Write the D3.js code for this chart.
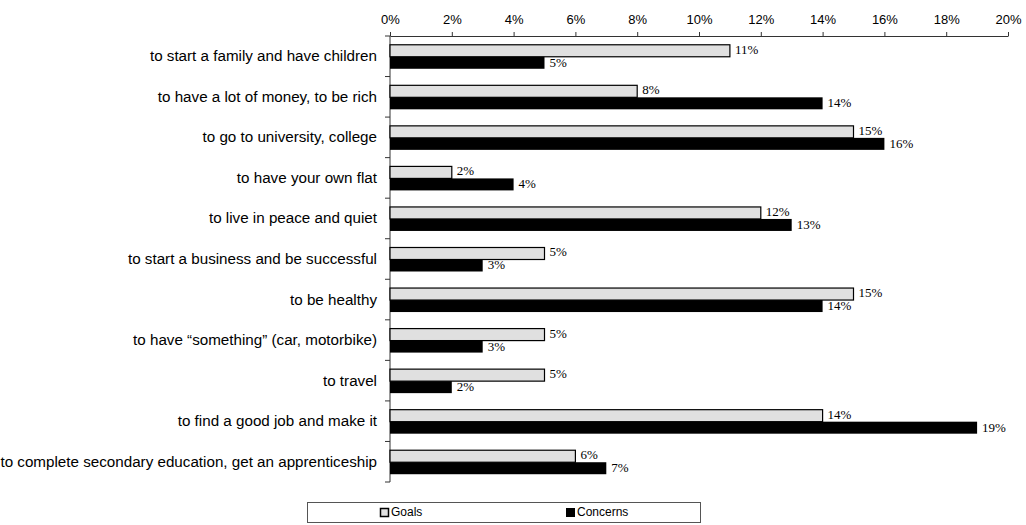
<!DOCTYPE html>
<html>
<head>
<meta charset="utf-8">
<script src="https://cdn.jsdelivr.net/npm/d3@7"></script>
<style>
  html, body { margin: 0; padding: 0; background: #fff; }
  svg { display: block; }
</style>
</head>
<body>
<svg id="chart" width="1026" height="525"></svg>
<script>
const categories = [
  "to start a family and have children",
  "to have a lot of money, to be rich",
  "to go to university, college",
  "to have your own flat",
  "to live in peace and quiet",
  "to start a business and be successful",
  "to be healthy",
  "to have \u201csomething\u201d (car, motorbike)",
  "to travel",
  "to find a good job and make it",
  "to complete secondary education, get an apprenticeship"
];
const goals    = [11, 8, 15, 2, 12, 5, 15, 5, 5, 14, 6];
const concerns = [5, 14, 16, 4, 13, 3, 14, 3, 2, 19, 7];
const xTicks   = [0, 2, 4, 6, 8, 10, 12, 14, 16, 18, 20];
const seriesNames = ["Goals", "Concerns"];

const svg = d3.select("#chart");
const plotL = 390, plotR = 1008, plotT = 36, plotB = 482;

const x = d3.scaleLinear().domain([0, 20]).range([plotL, plotR]);
const y = d3.scaleBand().domain(categories).range([plotT, plotB]).paddingInner(0).paddingOuter(0);
const barH = 12;

// top axis
const xAxis = d3.axisTop(x).tickValues(xTicks).tickFormat(d => d + "%").tickSize(4).tickSizeOuter(0);
const gx = svg.append("g").attr("transform", `translate(0,${plotT})`).call(xAxis);
gx.select(".domain").attr("stroke", "#333");
gx.selectAll(".tick line").attr("stroke", "#333");
gx.selectAll(".tick text").attr("font-family", "Liberation Sans, Arial, sans-serif")
  .attr("font-size", 13).attr("fill", "#000").attr("dy", "-0.4em");

// left axis with ticks between bands
const gy = svg.append("g").attr("transform", `translate(${plotL},0)`);
gy.append("line").attr("x1", 0).attr("x2", 0).attr("y1", plotT).attr("y2", plotB).attr("stroke", "#333");
const bounds = d3.range(categories.length + 1).map(i => plotT + i * y.bandwidth());
gy.selectAll("line.tk").data(bounds).join("line").attr("class", "tk")
  .attr("x1", -5).attr("x2", 0).attr("y1", d => d).attr("y2", d => d).attr("stroke", "#333");

// category labels
svg.append("g").selectAll("text").data(categories).join("text")
  .attr("x", 377).attr("y", d => y(d) + y.bandwidth() / 2 + 1)
  .attr("text-anchor", "end").attr("dominant-baseline", "middle")
  .attr("font-family", "Liberation Sans, Arial, sans-serif").attr("font-size", 15.2).attr("fill", "#000")
  .text(d => d);

const rows = categories.map((c, i) => ({ c, g: goals[i], k: concerns[i] }));
const offG = (y.bandwidth() - 2 * barH) / 2 + 0.5;

// goals bars
svg.append("g").selectAll("rect").data(rows).join("rect")
  .attr("x", x(0)).attr("y", d => y(d.c) + offG)
  .attr("width", d => x(d.g) - x(0)).attr("height", barH)
  .attr("fill", "#e0e0e0").attr("stroke", "#000").attr("stroke-width", 1.2);

// concerns bars
svg.append("g").selectAll("rect").data(rows).join("rect")
  .attr("x", x(0)).attr("y", d => y(d.c) + offG + barH)
  .attr("width", d => x(d.k) - x(0)).attr("height", barH)
  .attr("fill", "#000");

// value labels
const lab = svg.append("g").attr("font-family", "Liberation Serif, Times New Roman, serif")
  .attr("font-size", 13).attr("fill", "#000");
lab.selectAll("text.g").data(rows).join("text").attr("class", "g")
  .attr("x", d => x(d.g) + 5).attr("y", d => y(d.c) + offG + barH / 2)
  .attr("dominant-baseline", "middle").text(d => d.g + "%");
lab.selectAll("text.k").data(rows).join("text").attr("class", "k")
  .attr("x", d => x(d.k) + 5).attr("y", d => y(d.c) + offG + barH * 1.5 + 1)
  .attr("dominant-baseline", "middle").text(d => d.k + "%");

// legend
const lg = svg.append("g");
lg.append("rect").attr("x", 307.5).attr("y", 502.5).attr("width", 393).attr("height", 20)
  .attr("fill", "#fff").attr("stroke", "#555");
const legendPos = [380, 566];
seriesNames.forEach((n, i) => {
  lg.append("rect").attr("x", legendPos[i] + 0.5).attr("y", 508.5).attr("width", 8).attr("height", 8)
    .attr("fill", i === 0 ? "#e0e0e0" : "#000").attr("stroke", "#000").attr("stroke-width", i === 0 ? 1.5 : 1);
  lg.append("text").attr("x", legendPos[i] + 11).attr("y", 513).attr("dominant-baseline", "middle")
    .attr("font-family", "Liberation Sans, Arial, sans-serif").attr("font-size", 12).attr("fill", "#000")
    .text(n);
});
</script>
</body>
</html>
